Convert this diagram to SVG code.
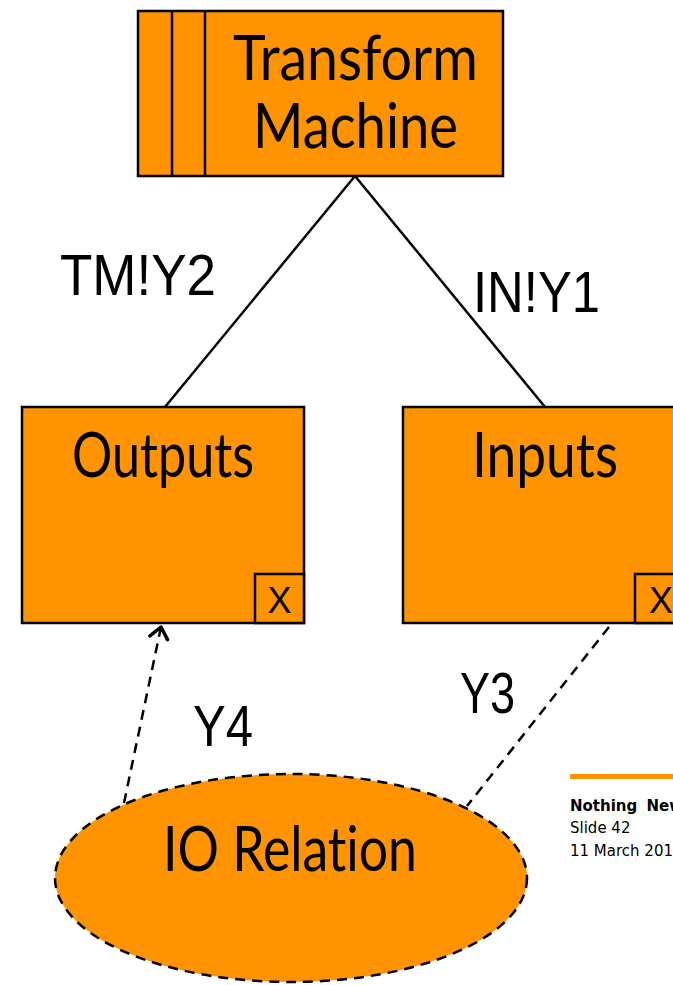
<svg xmlns="http://www.w3.org/2000/svg" width="673" height="985" viewBox="0 0 673 985">
  <style>
    .box { fill: #FF9300; stroke: #000; stroke-width: 2.5; }
    .name { font-family: Lato, "Open Sans", sans-serif; font-size: 61px; fill: #000; font-variant-ligatures: none; }
    .lbl { font-family: "Liberation Sans", Arial, sans-serif; font-size: 58px; fill: #000; }
    .x { font-family: "Liberation Sans", Arial, sans-serif; font-size: 36px; fill: #000; }
    .line { stroke: #000; stroke-width: 2.5; fill: none; }
    .dash { stroke: #000; stroke-width: 2.5; fill: none; stroke-dasharray: 10 7; }
    .foot { font-family: "DejaVu Sans", Verdana, sans-serif; font-size: 15px; fill: #000; }
  </style>
  <defs>
    <marker id="open" markerWidth="22" markerHeight="24" refX="13" refY="11" orient="auto" markerUnits="userSpaceOnUse">
      <path d="M2,2 L13,11 L2,20" fill="none" stroke="#000" stroke-width="3.5" stroke-linecap="round" stroke-linejoin="round"/>
    </marker>
  </defs>
  <rect width="673" height="985" fill="#fff"/>

  <!-- connectors -->
  <g id="connectors">
    <line class="line" x1="355" y1="176" x2="165" y2="407"/>
    <line class="line" x1="355" y1="176" x2="545" y2="407"/>
    <line class="dash" x1="124" y1="803" x2="161" y2="627" marker-end="url(#open)"/>
    <line class="dash" x1="609" y1="627" x2="467" y2="806"/>
  </g>

  <!-- Transform Machine -->
  <g id="transform-machine">
    <rect class="box" x="138" y="11" width="365" height="165"/>
    <line class="line" x1="172" y1="11" x2="172" y2="176"/>
    <line class="line" x1="205" y1="11" x2="205" y2="176"/>
    <text class="name" x="233" y="80" textLength="245" lengthAdjust="spacingAndGlyphs">Transform</text>
    <text class="name" x="253" y="148" textLength="205" lengthAdjust="spacingAndGlyphs">Machine</text>
  </g>

  <!-- Outputs -->
  <g id="outputs">
    <rect class="box" x="22" y="407" width="282" height="216"/>
    <rect class="box" x="255" y="574" width="49" height="49"/>
    <text class="x" x="279.5" y="613" text-anchor="middle">X</text>
    <text class="name" x="72" y="477" textLength="182" lengthAdjust="spacingAndGlyphs">Outputs</text>
  </g>

  <!-- Inputs -->
  <g id="inputs">
    <rect class="box" x="403" y="407" width="290" height="216"/>
    <rect class="box" x="635" y="574" width="49" height="49"/>
    <text class="x" x="661" y="613" text-anchor="middle">X</text>
    <text class="name" x="472" y="477" textLength="146" lengthAdjust="spacingAndGlyphs">Inputs</text>
  </g>

  <!-- IO Relation -->
  <g id="io-relation">
    <ellipse cx="291" cy="878" rx="236" ry="104" fill="#FF9300" stroke="#000" stroke-width="2.5" stroke-dasharray="10 7"/>
    <text class="name" x="163" y="871" textLength="254" lengthAdjust="spacingAndGlyphs">IO Relation</text>
  </g>

  <!-- connector labels -->
  <g id="labels">
    <text class="lbl" x="60" y="295" textLength="156" lengthAdjust="spacingAndGlyphs">TM!Y2</text>
    <text class="lbl" x="473" y="312" textLength="127" lengthAdjust="spacingAndGlyphs">IN!Y1</text>
    <text class="lbl" x="193" y="746" font-size="63" textLength="60" lengthAdjust="spacingAndGlyphs">Y4</text>
    <text class="lbl" x="460" y="713" font-size="63" textLength="55" lengthAdjust="spacingAndGlyphs">Y3</text>
  </g>

  <!-- slide footer -->
  <g id="footer">
    <rect x="570" y="774" width="110" height="5" fill="#FF9300"/>
    <text class="foot" x="570" y="811" font-weight="bold" word-spacing="4">Nothing New</text>
    <text class="foot" x="570" y="833">Slide 42</text>
    <text class="foot" x="570" y="856">11 March 2011</text>
  </g>
</svg>
